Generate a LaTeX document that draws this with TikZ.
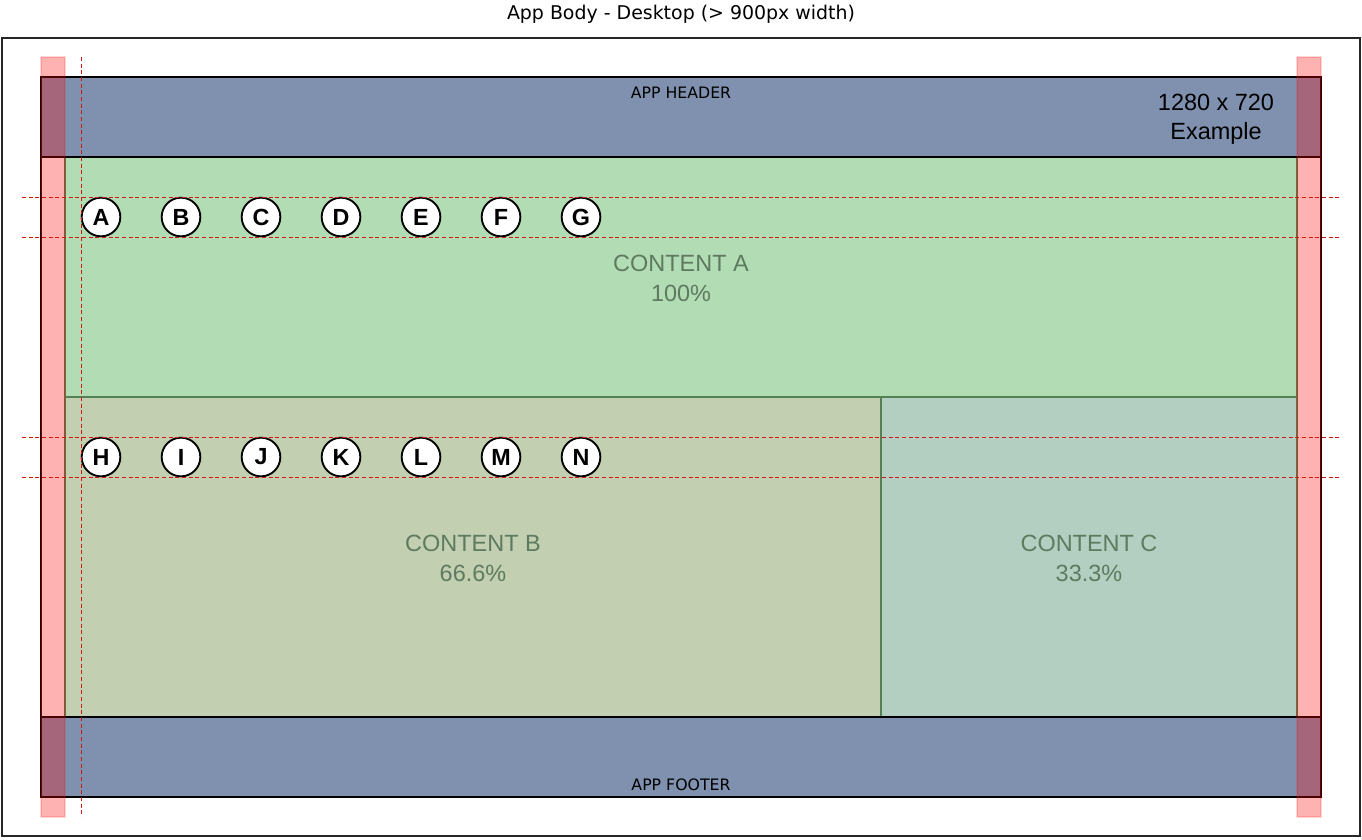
\documentclass[tikz,border=0pt]{standalone}
\usepackage{fontspec}
\setmainfont{Liberation Sans}
\newfontfamily\uifont{DejaVu Sans}
\definecolor{hdr}{RGB}{127,145,175}
\definecolor{cA}{RGB}{177,220,180}
\definecolor{cB}{RGB}{194,207,176}
\definecolor{cC}{RGB}{179,207,194}
\definecolor{cbord}{RGB}{84,128,84}
\definecolor{ctext}{RGB}{94,122,95}
\definecolor{guide}{RGB}{215,20,20}
\tikzset{
  region/.style={draw=cbord, line width=0.8pt},
  bar/.style={draw=black, line width=0.8pt, fill=hdr},
  pinkbar/.style={fill=red, fill opacity=0.3, draw=red, draw opacity=0.15, line width=1pt},
  guideline/.style={draw=guide, dashed, dash pattern=on 3pt off 2pt, line width=0.6pt},
  bigtxt/.style={font=\fontsize{17.6}{22.5}\selectfont, align=center, text=ctext},
  smalltxt/.style={font=\uifont\fontsize{11.8}{14}\selectfont},
  letter/.style={circle, draw=black, line width=1.4pt, fill=white, minimum size=29pt, inner sep=0pt, font=\bfseries\fontsize{17.5}{18}\selectfont},
}
\begin{document}
\begin{tikzpicture}[x=0.75pt,y=-0.75pt]
\useasboundingbox (0,0) rectangle (1362,839);
\fill[white] (0,0) rectangle (1362,839);
% title and outer frame
\node[font=\uifont\fontsize{14.2}{17}\selectfont] (title) at (681,14) {App Body - Desktop (> 900px width)};
\draw[draw=black!85, line width=1.4pt] (2,38) rectangle (1360,836);
% app container
\draw[draw=black, line width=0.8pt, fill=white] (41,77) rectangle (1321,797);
% content regions
\draw[region, fill=cA] (65,157) rectangle (1297,397);
\draw[region, fill=cB] (65,397) rectangle (881,717);
\draw[region, fill=cC] (881,397) rectangle (1297,717);
% header and footer
\draw[bar] (41,77) rectangle (1321,157);
\draw[bar] (41,717) rectangle (1321,797);
\node[smalltxt] (hdrtxt) at (681,93) {APP HEADER};
\node[smalltxt] (ftrtxt) at (681,785) {APP FOOTER};
\node[font=\fontsize{17.6}{21}\selectfont, align=center] (example) at (1216,119) {1280 x 720\\[0.6pt]Example};
% content labels
\node[bigtxt] (ta) at (681,278) {CONTENT A\\100\%};
\node[bigtxt] (tb) at (473,558) {CONTENT B\\66.6\%};
\node[bigtxt] (tc) at (1089,558) {CONTENT C\\33.3\%};
% side margins
\path[pinkbar] (41,57) rectangle (65,817);
\path[pinkbar] (1297,57) rectangle (1321,817);
% letter circles
\foreach \l [count=\i from 0] in {A,B,C,D,E,F,G}
  \node[letter] (c\l) at (101+80*\i,217) {\l};
\foreach \l [count=\i from 0] in {H,I,J,K,L,M,N}
  \node[letter] (c\l) at (101+80*\i,457) {\l};
% guides
\coordinate (g1l) at (22,197); \coordinate (g1r) at (1340,197);
\coordinate (g2l) at (22,237); \coordinate (g2r) at (1340,237);
\coordinate (g3l) at (22,437); \coordinate (g3r) at (1340,437);
\coordinate (g4l) at (22,477); \coordinate (g4r) at (1340,477);
\coordinate (gvt) at (81,57); \coordinate (gvb) at (81,817);
\draw[guideline] (g1l) -- (g1r);
\draw[guideline] (g2l) -- (g2r);
\draw[guideline] (g3l) -- (g3r);
\draw[guideline] (g4l) -- (g4r);
\draw[guideline] (gvt) -- (gvb);
\end{tikzpicture}
\end{document}
